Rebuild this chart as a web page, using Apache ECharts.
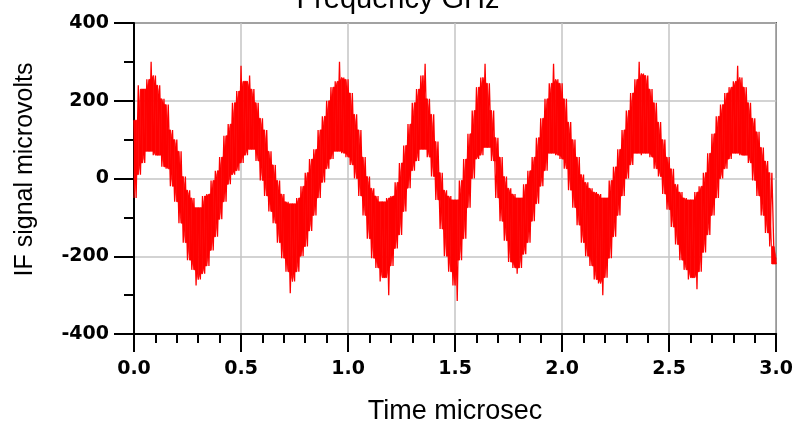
<!DOCTYPE html>
<html>
<head>
<meta charset="utf-8">
<script src="https://cdn.jsdelivr.net/npm/echarts@6/dist/echarts.min.js"></script>
<style>
  html, body { margin: 0; padding: 0; background: #ffffff; }
  #chart { width: 796px; height: 430px; }
</style>
</head>
<body>
<div id="chart"></div>
<script>
// IF signal (microvolts), one sample every 0.01 microsec
var dt = 0.01;
var signal = [
  150, -50, 240, 10, 230, 40, 255, 70, 300, 60,
  265, 60, 240, 30, 205, 25, 190, -20, 125, -60,
  100, -115, 70, -165, 5, -210, -30, -235, -50, -275,
  -75, -260, -45, -245, -40, -225, -5, -185, 20, -150,
  55, -105, 110, -60, 140, -15, 195, 10, 225, 20,
  290, 40, 250, 60, 265, 75, 230, 45, 195, -5,
  155, -45, 125, -85, 70, -115, 35, -165, -5, -205,
  -40, -240, -60, -295, -65, -265, -50, -240, -20, -200,
  15, -175, 50, -135, 75, -95, 125, -50, 160, -10,
  200, 25, 235, 50, 250, 70, 300, 65, 260, 55,
  255, 35, 220, 0, 165, -45, 125, -95, 55, -155,
  5, -205, -25, -230, -45, -265, -60, -255, -50, -300,
  -45, -225, -10, -180, 40, -145, 85, -85, 140, -25,
  195, 20, 230, 45, 265, 75, 295, 55, 205, 5,
  165, -55, 95, -130, 15, -200, -30, -240, -45, -275,
  -55, -315, -5, -210, 50, -155, 115, -75, 175, 0,
  235, 50, 260, 60, 295, 80, 245, 45, 175, -50,
  105, -110, 55, -160, 5, -215, -25, -230, -40, -245,
  -50, -230, -15, -195, 20, -165, 55, -110, 105, -65,
  155, -20, 205, 20, 245, 65, 295, 60, 255, 50,
  245, 25, 205, -30, 145, -75, 100, -120, 55, -165,
  10, -200, -10, -225, -25, -260, -35, -270, -40, -300,
  -50, -255, -5, -205, 30, -150, 75, -95, 125, -45,
  175, 0, 220, 35, 255, 65, 300, 60, 270, 65,
  265, 55, 230, 25, 195, 5, 145, -40, 100, -80,
  55, -125, 25, -170, -15, -210, -35, -235, -50, -260,
  -55, -255, -35, -285, -20, -240, 15, -190, 65, -145,
  115, -95, 160, -50, 190, 0, 220, 25, 235, 50,
  250, 65, 290, 60, 260, 60, 235, 40, 195, -5,
  155, -45, 120, -95, 80, -140, 45, -175, 15, -205,
  -220
];
var xTicks = [0, 3, 0.5];      // min, max, step
var yTicks = [-400, 400, 200];

var points = signal.map(function (v, i) { return [+(i * dt).toFixed(2), v]; });

// solid core of the trace: lowest nearby high and highest nearby low
var core = signal.map(function (v, i) {
  var hi = [], lo = [];
  for (var j = Math.max(0, i - 2); j <= Math.min(signal.length - 1, i + 2); j++) {
    (j % 2 === 0 ? hi : lo).push(signal[j]);
  }
  return [+(i * dt).toFixed(2), Math.min.apply(null, hi), Math.max.apply(null, lo)];
});
var coreSegs = [];
for (var k = 0; k < core.length - 1; k++) {
  coreSegs.push(core[k].concat(core[k + 1]));
}

function renderCore(params, api) {
  var p1 = api.coord([api.value(0), api.value(1)]);
  var p2 = api.coord([api.value(3), api.value(4)]);
  var p3 = api.coord([api.value(3), api.value(5)]);
  var p4 = api.coord([api.value(0), api.value(2)]);
  return {
    type: 'polygon',
    shape: { points: [p1, p2, p3, p4] },
    style: { fill: '#ff0000', stroke: '#ff0000', lineWidth: 0.6 }
  };
}

var myChart = echarts.init(document.getElementById('chart'));

var tickFont = { color: '#000', fontFamily: 'DejaVu Sans', fontWeight: 'bold', fontSize: 19 };

var option = {
  backgroundColor: '#ffffff',
  animation: false,
  title: {
    text: 'Frequency GHz',
    left: 'center',
    top: -20,
    textStyle: { fontFamily: 'Liberation Sans', fontSize: 29, fontWeight: 'normal', color: '#000' }
  },
  grid: {
    left: 134, right: 18, top: 23, bottom: 92,
    show: true, borderColor: '#000', borderWidth: 1.5, backgroundColor: 'transparent'
  },
  xAxis: {
    type: 'value',
    min: xTicks[0], max: xTicks[1], interval: xTicks[2],
    name: 'Time microsec',
    nameLocation: 'middle',
    nameGap: 64,
    nameTextStyle: { fontFamily: 'Liberation Sans', fontSize: 27, color: '#000' },
    axisLine: { show: true, onZero: false, lineStyle: { color: '#000', width: 2 } },
    axisTick: { show: true, length: 18, lineStyle: { color: '#000', width: 2 } },
    minorTick: { show: true, splitNumber: 5, length: 9, lineStyle: { color: '#000', width: 2 } },
    axisLabel: Object.assign({ margin: 26, formatter: function (v) { return v.toFixed(1); } }, tickFont),
    splitLine: { show: true, lineStyle: { color: '#c4c4c4', width: 1.5 } }
  },
  yAxis: {
    type: 'value',
    min: yTicks[0], max: yTicks[1], interval: yTicks[2],
    name: 'IF signal microvolts',
    nameLocation: 'middle',
    nameGap: 96,
    nameTextStyle: { fontFamily: 'Liberation Sans', fontSize: 25, color: '#000', padding: [0, 0, 0, 18] },
    axisLine: { show: true, onZero: false, lineStyle: { color: '#000', width: 2 } },
    axisTick: { show: true, length: 20, lineStyle: { color: '#000', width: 2 } },
    minorTick: { show: true, splitNumber: 2, length: 10, lineStyle: { color: '#000', width: 2 } },
    axisLabel: Object.assign({ margin: 25 }, tickFont),
    splitLine: { show: true, lineStyle: { color: '#c4c4c4', width: 1.5 } }
  },
  series: [{
    type: 'custom',
    data: coreSegs,
    renderItem: renderCore,
    encode: { x: [0, 3], y: [1, 2, 4, 5] },
    silent: true
  }, {
    type: 'line',
    data: points,
    showSymbol: false,
    sampling: null,
    lineStyle: { color: '#ff0000', width: 1.3 },
    itemStyle: { color: '#ff0000' }
  }]
};
myChart.setOption(option);
</script>
</body>
</html>
